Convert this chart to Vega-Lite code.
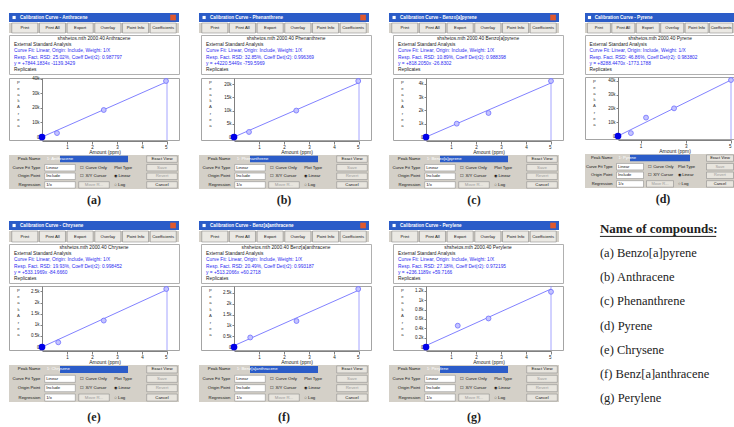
{
"$schema": "https://vega.github.io/schema/vega-lite/v6.json",
"background": "white",
"padding": {"left": 8, "top": 13, "right": 0, "bottom": 0},
"config": {"view": {"stroke": null}, "font": "Liberation Sans"},
"datasets": {
"meta": [
{"id":"a","win":"Calibration Curve - Anthracene","peak":"1: Anthracene","cap":"(a)","l0":"shshetos.mth   2000.40   Anthracene","l1":"External Standard Analysis","l2":"Curve Fit: Linear, Origin: Include, Weight: 1/X","l3":"Resp. Fact. RSD: 25.02%,    Coeff Det(r2): 0.987797","l4":"y = +7844.1834x -1139.3429","l5":"Replicates"},
{"id":"b","win":"Calibration Curve - Phenanthrene","peak":"1: Phenanthrene","cap":"(b)","l0":"shshetos.mth   2000.40   Phenanthrene","l1":"External Standard Analysis","l2":"Curve Fit: Linear, Origin: Include, Weight: 1/X","l3":"Resp. Fact. RSD: 32.85%,    Coeff Det(r2): 0.996369","l4":"y = +4220.5449x -759.5969","l5":"Replicates"},
{"id":"c","win":"Calibration Curve - Benzo[a]pyrene","peak":"1: Benzo[a]pyrene","cap":"(c)","l0":"shshetos.mth   2000.40   Benzo[a]pyrene","l1":"External Standard Analysis","l2":"Curve Fit: Linear, Origin: Include, Weight: 1/X","l3":"Resp. Fact. RSD: 10.89%,    Coeff Det(r2): 0.988398","l4":"y = +818.2050x -26.8302","l5":"Replicates"},
{"id":"d","win":"Calibration Curve - Pyrene","peak":"1: Pyrene","cap":"(d)","l0":"shshetos.mth   2000.40   Pyrene","l1":"External Standard Analysis","l2":"Curve Fit: Linear, Origin: Include, Weight: 1/X","l3":"Resp. Fact. RSD: 46.86%,    Coeff Det(r2): 0.983802","l4":"y = +8288.4470x -1773.1788","l5":"Replicates"},
{"id":"e","win":"Calibration Curve - Chrysene","peak":"1: Chrysene","cap":"(e)","l0":"shshetos.mth   2000.40   Chrysene","l1":"External Standard Analysis","l2":"Curve Fit: Linear, Origin: Include, Weight: 1/X","l3":"Resp. Fact. RSD: 19.93%,    Coeff Det(r2): 0.998452","l4":"y = +533.1969x -84.6660","l5":"Replicates"},
{"id":"f","win":"Calibration Curve - Benz[a]anthracene","peak":"1: Benz[a]anthracene","cap":"(f)","l0":"shshetos.mth   2000.40   Benz[a]anthracene","l1":"External Standard Analysis","l2":"Curve Fit: Linear, Origin: Include, Weight: 1/X","l3":"Resp. Fact. RSD: 20.49%,    Coeff Det(r2): 0.993187","l4":"y = +513.2066x +60.2718","l5":"Replicates"},
{"id":"g","win":"Calibration Curve - Perylene","peak":"1: Perylene","cap":"(g)","l0":"shshetos.mth   2000.40   Perylene","l1":"External Standard Analysis","l2":"Curve Fit: Linear, Origin: Include, Weight: 1/X","l3":"Resp. Fact. RSD: 27.18%,    Coeff Det(r2): 0.972195","l4":"y = +236.1189x +59.7166","l5":"Replicates"}
],
"plot": [
{"id":"a","kind":"o","x":0,"y":0},{"id":"a","kind":"fit","x":0,"y":0},{"id":"a","kind":"fit","x":5,"y":38100},{"id":"a","kind":"pt","x":0.6,"y":2700},{"id":"a","kind":"pt","x":2.47,"y":18600},{"id":"a","kind":"pt","x":4.96,"y":38600},
{"id":"b","kind":"o","x":0,"y":0},{"id":"b","kind":"fit","x":0,"y":0},{"id":"b","kind":"fit","x":5,"y":20600},{"id":"b","kind":"pt","x":0.6,"y":1900},{"id":"b","kind":"pt","x":2.49,"y":10000},{"id":"b","kind":"pt","x":4.97,"y":21200},
{"id":"c","kind":"o","x":0,"y":0},{"id":"c","kind":"fit","x":0,"y":0},{"id":"c","kind":"fit","x":5,"y":4050},{"id":"c","kind":"pt","x":1.23,"y":1000},{"id":"c","kind":"pt","x":2.5,"y":1800},{"id":"c","kind":"pt","x":5,"y":4200},
{"id":"d","kind":"o","x":0,"y":0},{"id":"d","kind":"fit","x":0,"y":0},{"id":"d","kind":"fit","x":5,"y":40500},{"id":"d","kind":"pt","x":0.57,"y":2100},{"id":"d","kind":"pt","x":1.24,"y":13300},{"id":"d","kind":"pt","x":2.48,"y":20000},{"id":"d","kind":"pt","x":5,"y":40500},
{"id":"e","kind":"o","x":0,"y":0},{"id":"e","kind":"fit","x":0,"y":0},{"id":"e","kind":"fit","x":5,"y":2580},{"id":"e","kind":"pt","x":0.65,"y":210},{"id":"e","kind":"pt","x":2.47,"y":1190},{"id":"e","kind":"pt","x":4.97,"y":2610},
{"id":"f","kind":"o","x":0,"y":0},{"id":"f","kind":"fit","x":0,"y":60},{"id":"f","kind":"fit","x":5,"y":2630},{"id":"f","kind":"pt","x":0.65,"y":440},{"id":"f","kind":"pt","x":2.5,"y":1200},{"id":"f","kind":"pt","x":4.97,"y":2680},
{"id":"g","kind":"o","x":0,"y":0},{"id":"g","kind":"fit","x":0,"y":30},{"id":"g","kind":"fit","x":5,"y":1240},{"id":"g","kind":"pt","x":1.27,"y":456},{"id":"g","kind":"pt","x":2.5,"y":610},{"id":"g","kind":"pt","x":5,"y":1180}
],
"ui": [
{"kind":"tool","t":"Print","w":["a","b","c","d","e","f","g"]},
{"kind":"tool","t":"Print All","w":["a","b","c","d","e","f","g"]},
{"kind":"tool","t":"Export","w":["a","b","c","d","e","f","g"]},
{"kind":"tool","t":"Overlay","w":["a","b","c","d","e","f","g"]},
{"kind":"tool","t":"Point Info","w":["a","b","c","d","e","f","g"]},
{"kind":"tool","t":"Coefficients","w":["a","b","c","d","e","f","g"]},
{"kind":"label","r":"r1","col":"lab","t":"Peak Name","w":["a","b","c","d","e","f","g"]},
{"kind":"label","r":"r2","col":"lab","t":"Curve Fit Type","w":["a","b","c","d","e","f","g"]},
{"kind":"label","r":"r3","col":"lab","t":"Origin Point","w":["a","b","c","d","e","f","g"]},
{"kind":"label","r":"r4","col":"lab","t":"Regression","w":["a","b","c","d","e","f","g"]},
{"kind":"input","r":"r2","col":"inp","t":"Linear","w":["a","b","c","d","e","f","g"]},
{"kind":"input","r":"r3","col":"inp","t":"Include","w":["a","b","c","d","e","f","g"]},
{"kind":"input","r":"r4","col":"inp","t":"1/x","w":["a","b","c","d","e","f","g"]},
{"kind":"check","r":"r2","col":"chk","t":"☐ Curve Only","w":["a","b","c","d","e","f","g"]},
{"kind":"check","r":"r3","col":"chk","t":"☐ X/Y Cursor","w":["a","b","c","d","e","f","g"]},
{"kind":"button","r":"r4","col":"chk","t":"Move R...","w":["a","b","c","d","e","f","g"]},
{"kind":"radio","r":"r2","col":"rad","t":"Plot Type","w":["a","b","c","d","e","f","g"]},
{"kind":"radio","r":"r3","col":"rad","t":"◉ Linear","w":["a","b","c","d","e","f","g"]},
{"kind":"radio","r":"r4","col":"rad","t":"○ Log","w":["a","b","c","d","e","f","g"]},
{"kind":"button","r":"r1","col":"btn","t":"Exact View","w":["a","b","c","d","e","f","g"]},
{"kind":"button","r":"r2","col":"btn","t":"Save","w":["a","b","c","d","e","f","g"]},
{"kind":"button","r":"r3","col":"btn","t":"Revert","w":["a","b","c","d","e","f","g"]},
{"kind":"button","r":"r4","col":"btn","t":"Cancel","w":["a","b","c","d","e","f","g"]}
],
"names": [
{"t":"Name of compounds:"},
{"t":"(a) Benzo[a]pyrene"},
{"t":"(b) Anthracene"},
{"t":"(c) Phenanthrene"},
{"t":"(d) Pyrene"},
{"t":"(e) Chrysene"},
{"t":"(f) Benz[a]anthracene"},
{"t":"(g) Perylene"}
]
},
"spacing": 10,
"vconcat": [
{"hconcat": [
{"spacing": 0, "vconcat": [
{"data":{"name":"meta"},"transform":[{"filter":{"field":"id","oneOf":["a","b","c"]}}],"facet":{"column":{"field":"id","type":"nominal","header":null}},"spacing":20,
 "spec":{"width":170,"height":9,"view":{"fill":"#2b5cc8","stroke":null},
  "layer":[
   {"mark":{"type":"square","filled":true,"color":"#ffffff","size":10,"opacity":1},"encoding":{"x":{"datum":3,"type":"quantitative","scale":{"domain":[0,100]},"axis":null}}},
   {"mark":{"type":"text","align":"left","color":"#ffffff","fontSize":4.6,"fontWeight":"bold"},"encoding":{"x":{"datum":6.5,"type":"quantitative"},"text":{"field":"win"}}},
   {"mark":{"type":"square","filled":true,"color":"#e0582c","size":32,"opacity":1},"encoding":{"x":{"datum":96.5,"type":"quantitative"}}}
  ]}},
{"data":{"name":"ui"},"transform":[{"flatten":["w"],"as":["id"]},{"filter":{"field":"id","oneOf":["a","b","c"]}},{"filter":"datum.kind == 'tool'"}],"facet":{"column":{"field":"id","type":"nominal","header":null}},"spacing":20,
 "spec":{"width":170,"height":10,"view":{"fill":"#d4d0c8","stroke":null},
  "encoding":{"x":{"field":"t","type":"nominal","sort":null,"axis":null,"scale":{"paddingInner":0.06,"paddingOuter":0.1}}},
  "layer":[
   {"mark":{"type":"bar","fill":"#ebe9e4","stroke":"#7a7a7a","strokeWidth":0.5}},
   {"mark":{"type":"text","fontSize":4.2,"color":"#111111"},"encoding":{"text":{"field":"t"}}}
  ]}},
{"data":{"name":"meta"},"transform":[{"filter":{"field":"id","oneOf":["a","b","c"]}},{"fold":["l0","l1","l2","l3","l4","l5"],"as":["k","t"]}],"facet":{"column":{"field":"id","type":"nominal","header":null}},"spacing":20,
 "spec":{"width":170,"height":39,"view":{"fill":"#ffffff","stroke":"#b0b0b0"},
  "encoding":{"y":{"field":"k","type":"ordinal","axis":null,"scale":{"type":"point","padding":0.7}}},
  "layer":[
   {"transform":[{"filter":"datum.k == 'l0'"}],"mark":{"type":"text","fontSize":4.8,"color":"#222222"},"encoding":{"x":{"datum":50,"type":"quantitative","scale":{"domain":[0,100]},"axis":null},"text":{"field":"t"}}},
   {"transform":[{"filter":"datum.k != 'l0'"}],"mark":{"type":"text","align":"left","fontSize":4.8},"encoding":{"x":{"datum":3,"type":"quantitative"},"text":{"field":"t"},"color":{"condition":{"test":"datum.k == 'l1' || datum.k == 'l5'","value":"#222222"},"value":"#2c2cf0"}}}
  ]}},
{"data":{"name":"plot"},"transform":[{"filter":{"field":"id","oneOf":["a","b","c"]}}],"facet":{"column":{"field":"id","type":"nominal","header":null}},"spacing":20,
 "resolve":{"scale":{"y":"independent"}},
 "spec":{"width":170,"height":62,"view":{"fill":"#ffffff","stroke":"#a4a4a4"},
  "layer":[
   {"transform":[{"filter":"datum.kind == 'fit'"}],"mark":{"type":"line","color":"#7373ff","strokeWidth":0.9},
    "encoding":{
     "x":{"field":"x","type":"quantitative","scale":{"domain":[0,5],"range":[33,158],"nice":false},"axis":{"values":[1,2,3,4,5],"format":"d","labelFontSize":4.5,"labelPadding":0.5,"tickSize":3,"grid":false,"domainColor":"#808080","tickColor":"#808080","labelColor":"#222222","title":"Amount (ppm)","titleFontSize":5,"titleFontWeight":"normal","titlePadding":0.5,"titleColor":"#222222"}},
     "y":{"field":"y","type":"quantitative","scale":{"zero":true,"nice":false,"padding":3},"axis":{"offset":-33,"tickCount":5,"labelExpr":"datum.value == 0 ? '0' : format(datum.value / 1000, '~g') + 'k'","labelFontSize":4.5,"labelPadding":1,"tickSize":2,"grid":false,"domainColor":"#808080","tickColor":"#808080","labelColor":"#222222","title":["P","e","a","k","","A","r","e","a"],"titleAngle":0,"titleX":-24,"titleY":2,"titleAlign":"center","titleBaseline":"top","titleFontSize":4.2,"titleFontWeight":"normal","titleLineHeight":6.2,"titleColor":"#333333"}}}},
   {"transform":[{"filter":"datum.kind == 'o'"}],"mark":{"type":"rule","color":"#8e8eff","strokeWidth":0.8},"encoding":{"x":{"datum":5,"type":"quantitative"}}},
   {"transform":[{"filter":"datum.kind == 'pt'"}],"mark":{"type":"point","shape":"circle","size":24,"filled":true,"fill":"#c4c4ff","stroke":"#6d6dff","strokeWidth":0.8,"opacity":1},"encoding":{"x":{"field":"x","type":"quantitative"},"y":{"field":"y","type":"quantitative"}}},
   {"transform":[{"filter":"datum.kind == 'o'"}],"mark":{"type":"circle","size":45,"color":"#0000e8","opacity":1},"encoding":{"x":{"field":"x","type":"quantitative"},"y":{"field":"y","type":"quantitative"}}}
  ]}},
{"data":{"name":"ui"},"transform":[{"flatten":["w"],"as":["id"]},{"filter":{"field":"id","oneOf":["a","b","c"]}},{"filter":"datum.kind != 'tool'"},{"lookup":"id","from":{"data":{"name":"meta"},"key":"id","fields":["peak"]}}],"facet":{"column":{"field":"id","type":"nominal","header":null}},"spacing":20,
 "spec":{"width":170,"height":34,"view":{"fill":"#d4d0c8","stroke":null},
  "encoding":{
   "x":{"field":"col","type":"nominal","axis":null,"scale":{"domain":["lab","inp","chk","rad","btn"],"paddingInner":0.1,"paddingOuter":0.05}},
   "y":{"field":"r","type":"nominal","axis":null,"scale":{"domain":["r1","r2","r3","r4"],"paddingInner":0.25,"paddingOuter":0.1}}},
  "layer":[
   {"transform":[{"filter":"datum.kind == 'input' || datum.kind == 'button'"}],"mark":{"type":"bar","strokeWidth":0.5,"stroke":"#808080"},"encoding":{"fill":{"condition":{"test":"datum.kind == 'input'","value":"#ffffff"},"value":"#e8e5de"}}},
   {"transform":[{"filter":"datum.kind == 'label' && datum.r == 'r1'"}],"mark":{"type":"rect","fill":"#2b5cc8"},"encoding":{"x":{"datum":"inp"},"x2":{"datum":"rad"}}},
   {"transform":[{"filter":"datum.kind == 'label'"}],"mark":{"type":"text","align":"right","fontSize":4.3,"color":"#111111","dx":-1},"encoding":{"x":{"field":"col","type":"nominal","bandPosition":1},"text":{"field":"t"}}},
   {"transform":[{"filter":"datum.kind == 'input' || datum.kind == 'check' || datum.kind == 'radio'"}],"mark":{"type":"text","align":"left","fontSize":4.3,"color":"#111111","dx":1.5},"encoding":{"x":{"field":"col","type":"nominal","bandPosition":0},"text":{"field":"t"}}},
   {"transform":[{"filter":"datum.kind == 'button'"}],"mark":{"type":"text","fontSize":4.3},"encoding":{"text":{"field":"t"},"color":{"condition":{"test":"datum.t == 'Save' || datum.t == 'Revert' || datum.t == 'Move R...'","value":"#9a9a9a"},"value":"#111111"}}},
   {"transform":[{"filter":"datum.kind == 'label' && datum.r == 'r1'"}],"mark":{"type":"text","align":"left","fontSize":4.3,"color":"#ffffff","dx":2},"encoding":{"x":{"datum":"inp","bandPosition":0},"text":{"field":"peak"}}}
  ]}},
{"data":{"name":"meta"},"transform":[{"filter":{"field":"id","oneOf":["a","b","c"]}}],"facet":{"column":{"field":"id","type":"nominal","header":null}},"spacing":20,
 "spec":{"width":170,"height":22,"mark":{"type":"text","font":"Liberation Serif","fontSize":12,"fontWeight":"bold","color":"#222222"},"encoding":{"x":{"datum":50,"type":"quantitative","scale":{"domain":[0,100]},"axis":null},"text":{"field":"cap"}}}}
]},
{"spacing": 0, "vconcat": [
{"data":{"name":"meta"},"transform":[{"filter":{"field":"id","oneOf":["d"]}}],"facet":{"column":{"field":"id","type":"nominal","header":null}},"spacing":20,
 "spec":{"width":150,"height":9,"view":{"fill":"#2b5cc8","stroke":null},
  "layer":[
   {"mark":{"type":"square","filled":true,"color":"#ffffff","size":10,"opacity":1},"encoding":{"x":{"datum":3,"type":"quantitative","scale":{"domain":[0,100]},"axis":null}}},
   {"mark":{"type":"text","align":"left","color":"#ffffff","fontSize":4.6,"fontWeight":"bold"},"encoding":{"x":{"datum":6.5,"type":"quantitative"},"text":{"field":"win"}}}
  ]}},
{"data":{"name":"ui"},"transform":[{"flatten":["w"],"as":["id"]},{"filter":{"field":"id","oneOf":["d"]}},{"filter":"datum.kind == 'tool'"}],"facet":{"column":{"field":"id","type":"nominal","header":null}},"spacing":20,
 "spec":{"width":150,"height":10,"view":{"fill":"#d4d0c8","stroke":null},
  "encoding":{"x":{"field":"t","type":"nominal","sort":null,"axis":null,"scale":{"paddingInner":0.06,"paddingOuter":0.1}}},
  "layer":[
   {"mark":{"type":"bar","fill":"#ebe9e4","stroke":"#7a7a7a","strokeWidth":0.5}},
   {"mark":{"type":"text","fontSize":4.0,"color":"#111111"},"encoding":{"text":{"field":"t"}}}
  ]}},
{"data":{"name":"meta"},"transform":[{"filter":{"field":"id","oneOf":["d"]}},{"fold":["l0","l1","l2","l3","l4","l5"],"as":["k","t"]}],"facet":{"column":{"field":"id","type":"nominal","header":null}},"spacing":20,
 "spec":{"width":150,"height":39,"view":{"fill":"#ffffff","stroke":"#b0b0b0"},
  "encoding":{"y":{"field":"k","type":"ordinal","axis":null,"scale":{"type":"point","padding":0.7}}},
  "layer":[
   {"transform":[{"filter":"datum.k == 'l0'"}],"mark":{"type":"text","fontSize":4.8,"color":"#222222"},"encoding":{"x":{"datum":50,"type":"quantitative","scale":{"domain":[0,100]},"axis":null},"text":{"field":"t"}}},
   {"transform":[{"filter":"datum.k != 'l0'"}],"mark":{"type":"text","align":"left","fontSize":4.8},"encoding":{"x":{"datum":3,"type":"quantitative"},"text":{"field":"t"},"color":{"condition":{"test":"datum.k == 'l1' || datum.k == 'l5'","value":"#222222"},"value":"#2c2cf0"}}}
  ]}},
{"data":{"name":"plot"},"transform":[{"filter":{"field":"id","oneOf":["d"]}}],"facet":{"column":{"field":"id","type":"nominal","header":null}},"spacing":20,
 "resolve":{"scale":{"y":"independent"}},
 "spec":{"width":150,"height":62,"view":{"fill":"#ffffff","stroke":"#a4a4a4"},
  "layer":[
   {"transform":[{"filter":"datum.kind == 'fit'"}],"mark":{"type":"line","color":"#7373ff","strokeWidth":0.9},
    "encoding":{
     "x":{"field":"x","type":"quantitative","scale":{"domain":[0,5],"range":[33,146],"nice":false},"axis":{"values":[1,2,3,4,5],"format":"d","labelFontSize":4.5,"labelPadding":0.5,"tickSize":3,"grid":false,"domainColor":"#808080","tickColor":"#808080","labelColor":"#222222","title":"Amount (ppm)","titleFontSize":5,"titleFontWeight":"normal","titlePadding":0.5,"titleColor":"#222222"}},
     "y":{"field":"y","type":"quantitative","scale":{"zero":true,"nice":false,"padding":3},"axis":{"offset":-33,"tickCount":5,"labelExpr":"datum.value == 0 ? '0' : format(datum.value / 1000, '~g') + 'k'","labelFontSize":4.5,"labelPadding":1,"tickSize":2,"grid":false,"domainColor":"#808080","tickColor":"#808080","labelColor":"#222222","title":["P","e","a","k","","A","r","e","a"],"titleAngle":0,"titleX":-24,"titleY":2,"titleAlign":"center","titleBaseline":"top","titleFontSize":4.2,"titleFontWeight":"normal","titleLineHeight":6.2,"titleColor":"#333333"}}}},
   {"transform":[{"filter":"datum.kind == 'o'"}],"mark":{"type":"rule","color":"#8e8eff","strokeWidth":0.8},"encoding":{"x":{"datum":5,"type":"quantitative"}}},
   {"transform":[{"filter":"datum.kind == 'pt'"}],"mark":{"type":"point","shape":"circle","size":24,"filled":true,"fill":"#c4c4ff","stroke":"#6d6dff","strokeWidth":0.8,"opacity":1},"encoding":{"x":{"field":"x","type":"quantitative"},"y":{"field":"y","type":"quantitative"}}},
   {"transform":[{"filter":"datum.kind == 'o'"}],"mark":{"type":"circle","size":45,"color":"#0000e8","opacity":1},"encoding":{"x":{"field":"x","type":"quantitative"},"y":{"field":"y","type":"quantitative"}}}
  ]}},
{"data":{"name":"ui"},"transform":[{"flatten":["w"],"as":["id"]},{"filter":{"field":"id","oneOf":["d"]}},{"filter":"datum.kind != 'tool'"},{"lookup":"id","from":{"data":{"name":"meta"},"key":"id","fields":["peak"]}}],"facet":{"column":{"field":"id","type":"nominal","header":null}},"spacing":20,
 "spec":{"width":150,"height":34,"view":{"fill":"#d4d0c8","stroke":null},
  "encoding":{
   "x":{"field":"col","type":"nominal","axis":null,"scale":{"domain":["lab","inp","chk","rad","btn"],"paddingInner":0.1,"paddingOuter":0.05}},
   "y":{"field":"r","type":"nominal","axis":null,"scale":{"domain":["r1","r2","r3","r4"],"paddingInner":0.25,"paddingOuter":0.1}}},
  "layer":[
   {"transform":[{"filter":"datum.kind == 'input' || datum.kind == 'button'"}],"mark":{"type":"bar","strokeWidth":0.5,"stroke":"#808080"},"encoding":{"fill":{"condition":{"test":"datum.kind == 'input'","value":"#ffffff"},"value":"#e8e5de"}}},
   {"transform":[{"filter":"datum.kind == 'label' && datum.r == 'r1'"}],"mark":{"type":"rect","fill":"#2b5cc8"},"encoding":{"x":{"datum":"inp"},"x2":{"datum":"rad"}}},
   {"transform":[{"filter":"datum.kind == 'label'"}],"mark":{"type":"text","align":"right","fontSize":4.1,"color":"#111111","dx":-1},"encoding":{"x":{"field":"col","type":"nominal","bandPosition":1},"text":{"field":"t"}}},
   {"transform":[{"filter":"datum.kind == 'input' || datum.kind == 'check' || datum.kind == 'radio'"}],"mark":{"type":"text","align":"left","fontSize":4.1,"color":"#111111","dx":1.5},"encoding":{"x":{"field":"col","type":"nominal","bandPosition":0},"text":{"field":"t"}}},
   {"transform":[{"filter":"datum.kind == 'button'"}],"mark":{"type":"text","fontSize":4.0},"encoding":{"text":{"field":"t"},"color":{"condition":{"test":"datum.t == 'Save' || datum.t == 'Revert' || datum.t == 'Move R...'","value":"#9a9a9a"},"value":"#111111"}}},
   {"transform":[{"filter":"datum.kind == 'label' && datum.r == 'r1'"}],"mark":{"type":"text","align":"left","fontSize":4.1,"color":"#ffffff","dx":2},"encoding":{"x":{"datum":"inp","bandPosition":0},"text":{"field":"peak"}}}
  ]}},
{"data":{"name":"meta"},"transform":[{"filter":{"field":"id","oneOf":["d"]}}],"facet":{"column":{"field":"id","type":"nominal","header":null}},"spacing":20,
 "spec":{"width":150,"height":22,"mark":{"type":"text","font":"Liberation Serif","fontSize":12,"fontWeight":"bold","color":"#222222"},"encoding":{"x":{"datum":52,"type":"quantitative","scale":{"domain":[0,100]},"axis":null},"text":{"field":"cap"}}}}
]}
], "spacing": 20},
{"hconcat": [
{"spacing": 0, "vconcat": [
{"data":{"name":"meta"},"transform":[{"filter":{"field":"id","oneOf":["e","f","g"]}}],"facet":{"column":{"field":"id","type":"nominal","header":null}},"spacing":20,
 "spec":{"width":170,"height":9,"view":{"fill":"#2b5cc8","stroke":null},
  "layer":[
   {"mark":{"type":"square","filled":true,"color":"#ffffff","size":10,"opacity":1},"encoding":{"x":{"datum":3,"type":"quantitative","scale":{"domain":[0,100]},"axis":null}}},
   {"mark":{"type":"text","align":"left","color":"#ffffff","fontSize":4.6,"fontWeight":"bold"},"encoding":{"x":{"datum":6.5,"type":"quantitative"},"text":{"field":"win"}}},
   {"mark":{"type":"square","filled":true,"color":"#e0582c","size":32,"opacity":1},"encoding":{"x":{"datum":96.5,"type":"quantitative"}}}
  ]}},
{"data":{"name":"ui"},"transform":[{"flatten":["w"],"as":["id"]},{"filter":{"field":"id","oneOf":["e","f","g"]}},{"filter":"datum.kind == 'tool'"}],"facet":{"column":{"field":"id","type":"nominal","header":null}},"spacing":20,
 "spec":{"width":170,"height":11,"view":{"fill":"#d4d0c8","stroke":null},
  "encoding":{"x":{"field":"t","type":"nominal","sort":null,"axis":null,"scale":{"paddingInner":0.06,"paddingOuter":0.1}}},
  "layer":[
   {"mark":{"type":"bar","fill":"#ebe9e4","stroke":"#7a7a7a","strokeWidth":0.5}},
   {"mark":{"type":"text","fontSize":4.2,"color":"#111111"},"encoding":{"text":{"field":"t"}}}
  ]}},
{"data":{"name":"meta"},"transform":[{"filter":{"field":"id","oneOf":["e","f","g"]}},{"fold":["l0","l1","l2","l3","l4","l5"],"as":["k","t"]}],"facet":{"column":{"field":"id","type":"nominal","header":null}},"spacing":20,
 "spec":{"width":170,"height":39,"view":{"fill":"#ffffff","stroke":"#b0b0b0"},
  "encoding":{"y":{"field":"k","type":"ordinal","axis":null,"scale":{"type":"point","padding":0.7}}},
  "layer":[
   {"transform":[{"filter":"datum.k == 'l0'"}],"mark":{"type":"text","fontSize":4.8,"color":"#222222"},"encoding":{"x":{"datum":50,"type":"quantitative","scale":{"domain":[0,100]},"axis":null},"text":{"field":"t"}}},
   {"transform":[{"filter":"datum.k != 'l0'"}],"mark":{"type":"text","align":"left","fontSize":4.8},"encoding":{"x":{"datum":3,"type":"quantitative"},"text":{"field":"t"},"color":{"condition":{"test":"datum.k == 'l1' || datum.k == 'l5'","value":"#222222"},"value":"#2c2cf0"}}}
  ]}},
{"data":{"name":"plot"},"transform":[{"filter":{"field":"id","oneOf":["e","f","g"]}}],"facet":{"column":{"field":"id","type":"nominal","header":null}},"spacing":20,
 "resolve":{"scale":{"y":"independent"}},
 "spec":{"width":170,"height":64,"view":{"fill":"#ffffff","stroke":"#a4a4a4"},
  "layer":[
   {"transform":[{"filter":"datum.kind == 'fit'"}],"mark":{"type":"line","color":"#7373ff","strokeWidth":0.9},
    "encoding":{
     "x":{"field":"x","type":"quantitative","scale":{"domain":[0,5],"range":[33,158],"nice":false},"axis":{"values":[1,2,3,4,5],"format":"d","labelFontSize":4.5,"labelPadding":0.5,"tickSize":3,"grid":false,"domainColor":"#808080","tickColor":"#808080","labelColor":"#222222","title":"Amount (ppm)","titleFontSize":5,"titleFontWeight":"normal","titlePadding":0.5,"titleColor":"#222222"}},
     "y":{"field":"y","type":"quantitative","scale":{"zero":true,"nice":false,"padding":3},"axis":{"offset":-33,"tickCount":5,"labelExpr":"datum.value == 0 ? '0' : format(datum.value / 1000, '~g') + 'k'","labelFontSize":4.5,"labelPadding":1,"tickSize":2,"grid":false,"domainColor":"#808080","tickColor":"#808080","labelColor":"#222222","title":["P","e","a","k","","A","r","e","a"],"titleAngle":0,"titleX":-24,"titleY":2,"titleAlign":"center","titleBaseline":"top","titleFontSize":4.2,"titleFontWeight":"normal","titleLineHeight":6.4,"titleColor":"#333333"}}}},
   {"transform":[{"filter":"datum.kind == 'o'"}],"mark":{"type":"rule","color":"#8e8eff","strokeWidth":0.8},"encoding":{"x":{"datum":5,"type":"quantitative"}}},
   {"transform":[{"filter":"datum.kind == 'pt'"}],"mark":{"type":"point","shape":"circle","size":24,"filled":true,"fill":"#c4c4ff","stroke":"#6d6dff","strokeWidth":0.8,"opacity":1},"encoding":{"x":{"field":"x","type":"quantitative"},"y":{"field":"y","type":"quantitative"}}},
   {"transform":[{"filter":"datum.kind == 'o'"}],"mark":{"type":"circle","size":45,"color":"#0000e8","opacity":1},"encoding":{"x":{"field":"x","type":"quantitative"},"y":{"field":"y","type":"quantitative"}}}
  ]}},
{"data":{"name":"ui"},"transform":[{"flatten":["w"],"as":["id"]},{"filter":{"field":"id","oneOf":["e","f","g"]}},{"filter":"datum.kind != 'tool'"},{"lookup":"id","from":{"data":{"name":"meta"},"key":"id","fields":["peak"]}}],"facet":{"column":{"field":"id","type":"nominal","header":null}},"spacing":20,
 "spec":{"width":170,"height":37,"view":{"fill":"#d4d0c8","stroke":null},
  "encoding":{
   "x":{"field":"col","type":"nominal","axis":null,"scale":{"domain":["lab","inp","chk","rad","btn"],"paddingInner":0.1,"paddingOuter":0.05}},
   "y":{"field":"r","type":"nominal","axis":null,"scale":{"domain":["r1","r2","r3","r4"],"paddingInner":0.25,"paddingOuter":0.1}}},
  "layer":[
   {"transform":[{"filter":"datum.kind == 'input' || datum.kind == 'button'"}],"mark":{"type":"bar","strokeWidth":0.5,"stroke":"#808080"},"encoding":{"fill":{"condition":{"test":"datum.kind == 'input'","value":"#ffffff"},"value":"#e8e5de"}}},
   {"transform":[{"filter":"datum.kind == 'label' && datum.r == 'r1'"}],"mark":{"type":"rect","fill":"#2b5cc8"},"encoding":{"x":{"datum":"inp"},"x2":{"datum":"rad"}}},
   {"transform":[{"filter":"datum.kind == 'label'"}],"mark":{"type":"text","align":"right","fontSize":4.3,"color":"#111111","dx":-1},"encoding":{"x":{"field":"col","type":"nominal","bandPosition":1},"text":{"field":"t"}}},
   {"transform":[{"filter":"datum.kind == 'input' || datum.kind == 'check' || datum.kind == 'radio'"}],"mark":{"type":"text","align":"left","fontSize":4.3,"color":"#111111","dx":1.5},"encoding":{"x":{"field":"col","type":"nominal","bandPosition":0},"text":{"field":"t"}}},
   {"transform":[{"filter":"datum.kind == 'button'"}],"mark":{"type":"text","fontSize":4.3},"encoding":{"text":{"field":"t"},"color":{"condition":{"test":"datum.t == 'Save' || datum.t == 'Revert' || datum.t == 'Move R...'","value":"#9a9a9a"},"value":"#111111"}}},
   {"transform":[{"filter":"datum.kind == 'label' && datum.r == 'r1'"}],"mark":{"type":"text","align":"left","fontSize":4.3,"color":"#ffffff","dx":2},"encoding":{"x":{"datum":"inp","bandPosition":0},"text":{"field":"peak"}}}
  ]}},
{"data":{"name":"meta"},"transform":[{"filter":{"field":"id","oneOf":["e","f","g"]}}],"facet":{"column":{"field":"id","type":"nominal","header":null}},"spacing":20,
 "spec":{"width":170,"height":22,"mark":{"type":"text","font":"Liberation Serif","fontSize":12,"fontWeight":"bold","color":"#222222","dy":4},"encoding":{"x":{"datum":50,"type":"quantitative","scale":{"domain":[0,100]},"axis":null},"text":{"field":"cap"}}}}
]},
{"data":{"name":"names"},"width":150,"height":185,
 "encoding":{"y":{"field":"t","type":"nominal","sort":null,"axis":null,"scale":{"type":"point","padding":0.35}}},
 "layer":[
  {"transform":[{"filter":"datum.t == 'Name of compounds:'"}],"mark":{"type":"text","align":"left","font":"Liberation Serif","fontSize":13,"fontWeight":"bold","color":"#222222"},"encoding":{"x":{"datum":17,"type":"quantitative","scale":{"domain":[0,150]},"axis":null},"text":{"field":"t"}}},
  {"transform":[{"filter":"datum.t == 'Name of compounds:'"}],"mark":{"type":"rule","color":"#222222","strokeWidth":1,"yOffset":7},"encoding":{"x":{"datum":17,"type":"quantitative"},"x2":{"datum":141}}},
  {"transform":[{"filter":"datum.t != 'Name of compounds:'"}],"mark":{"type":"text","align":"left","font":"Liberation Serif","fontSize":12.5,"color":"#222222"},"encoding":{"x":{"datum":17,"type":"quantitative"},"text":{"field":"t"}}}
 ]}
], "spacing": 20}
]
}
